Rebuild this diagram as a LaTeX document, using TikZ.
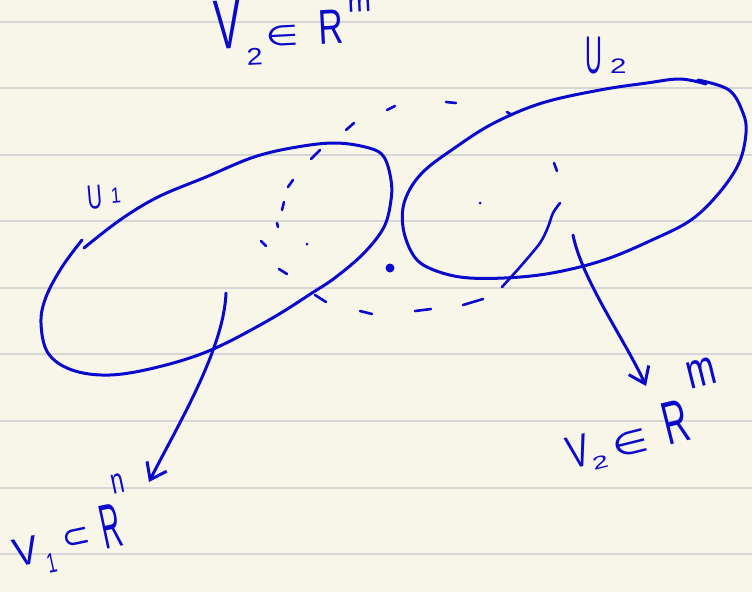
\documentclass[tikz,border=0pt]{standalone}
\usepackage{fontspec}
\setmainfont{Liberation Sans}
\newfontfamily\signfont{DejaVu Sans}
\usepackage{graphicx}
\usepackage{xcolor}
\usepackage{tikz}
\usetikzlibrary{arrows.meta}

\definecolor{inkblue}{RGB}{10,10,205}
\definecolor{paper}{RGB}{248,246,233}
\definecolor{ruling}{RGB}{214,214,214}

% handwritten-looking glyph: [x-scale]{size}{text}
\newcommand{\hw}[3][0.6]{\scalebox{#1}[1]{\fontsize{#2}{#2}\selectfont #3}}
\newcommand{\hwsign}[3][1]{\scalebox{#1}[1]{\fontsize{#2}{#2}\signfont #3}}

\begin{document}
\begin{tikzpicture}[x=1pt, y=-1pt,
  ink/.style={draw=inkblue, line width=3pt, line cap=round, line join=round},
  dashink/.style={ink, line width=2.6pt},
  arrowink/.style={ink, -{Straight Barb[length=15pt, width=22pt, line width=3pt]}},
  hand/.style={text=inkblue, inner sep=0pt, anchor=base west}]

  % Paper and ruling
  \fill[paper] (0,0) rectangle (752,592);
  \useasboundingbox (0,0) rectangle (752,592);
  \draw[ruling, line width=2pt] (0,22) -- (752,22) (0,88) -- (752,88)
    (0,155) -- (752,155) (0,221) -- (752,221) (0,288) -- (752,288)
    (0,354) -- (752,354) (0,421) -- (752,421) (0,488) -- (752,488)
    (0,554) -- (752,554);

  % Set U1
  \draw[ink] plot[smooth, tension=0.6] coordinates {(84,248) (120,220) (158,197)
    (206,177) (254,157) (297,147) (336,143) (369,148) (384,157) (391,180)
    (391,200) (384,227) (364,253) (336,277) (312,293) (269,320) (211,350)
    (158,367) (110,375) (72,370) (48,353) (41,323) (46,297) (62,267) (82,240)};

  % Set U2
  \draw[ink] plot[smooth, tension=0.6] coordinates {(698,80) (729,90) (743,113)
    (746,133) (739,163) (719,193) (691,220) (652,240) (604,260) (552,273)
    (504,278) (460,277) (427,267) (412,253) (403,227) (405,200) (422,173)
    (456,147) (494,123) (542,103) (600,90) (647,83) (680,79) (706,84)};

  % Dashed neighbourhood of the point
  \draw[dashink] (387,110) -- (395,106) (446,102) -- (456,103)
    (346,130) -- (354,123) (311,159) -- (320,150) (288,187) -- (293,180)
    (282,210) -- (284,202) (277,223) -- (278,227) (261,241) -- (266,246)
    (279,269) -- (287,274) (315,295) -- (326,302) (360,311) -- (372,314)
    (415,311) -- (431,309) (463,305) -- (483,299) (554,163) -- (557,171)
    (507,112) -- (512,115);
  \draw[ink, line width=2.6pt] plot[smooth] coordinates {(560,203) (553,213)
    (548,227) (540,243) (520,267) (502,287)};
  \fill[inkblue] (307,244) circle[radius=1.5pt] (480,203) circle[radius=1.5pt];

  % The point
  \fill[inkblue] (390,268) circle[radius=4.5pt];

  % Labels
  \node[hand, rotate=3] (vtop) at (215,50) {\hw[0.58]{70}{V}\hspace{4pt}%
    \raisebox{-17pt}{\hw[1.2]{24}{2}}\hspace{4pt}\raisebox{1pt}{\hwsign[1.35]{28}{∈}}%
    \hspace{20pt}\hw[0.7]{49}{R}\hspace{6pt}\raisebox{30pt}{\hw[1]{28}{m}}};
  \node[hand, rotate=5] (uone) at (88,210) {\hw[0.61]{34}{U}\hspace{9pt}%
    \raisebox{4pt}{\hw[0.8]{22}{1}}};
  \node[hand] (utwo) at (585,73) {\hw[0.44]{53}{U}\hspace{8pt}\hw[1.4]{21}{2}};
  \node[hand, rotate=12] (vone) at (16,568) {\hw[0.94]{40}{V}\hspace{6pt}%
    \raisebox{-12pt}{\hw[0.6]{28}{1}}\hspace{10pt}\raisebox{7pt}{\hwsign{34}{⊂}}%
    \hspace{12pt}\hw[0.44]{63}{R}\hspace{0pt}\raisebox{52pt}{\hw[0.65]{36}{n}}};
  \node[hand, rotate=14] (vtwo) at (571,470) {\hw[0.72]{46}{V}\hspace{0pt}%
    \raisebox{-6pt}{\hw[1.6]{18}{2}}\hspace{8pt}\hwsign[1.3]{32}{∈}%
    \hspace{18pt}\hw[0.57]{61}{R}\hspace{10pt}\raisebox{49pt}{\hw[0.7]{50}{m}}};

  % Maps into the charts
  \coordinate (s1) at (226,293);
  \coordinate (t1) at (149,482);
  \coordinate (s2) at (573,235);
  \coordinate (t2) at (646,386);
  \draw[arrowink] (s1) .. controls (224,350) and (175,430) .. (t1);
  \draw[arrowink] (s2) .. controls (582,280) and (625,340) .. (t2);

\end{tikzpicture}
\end{document}
